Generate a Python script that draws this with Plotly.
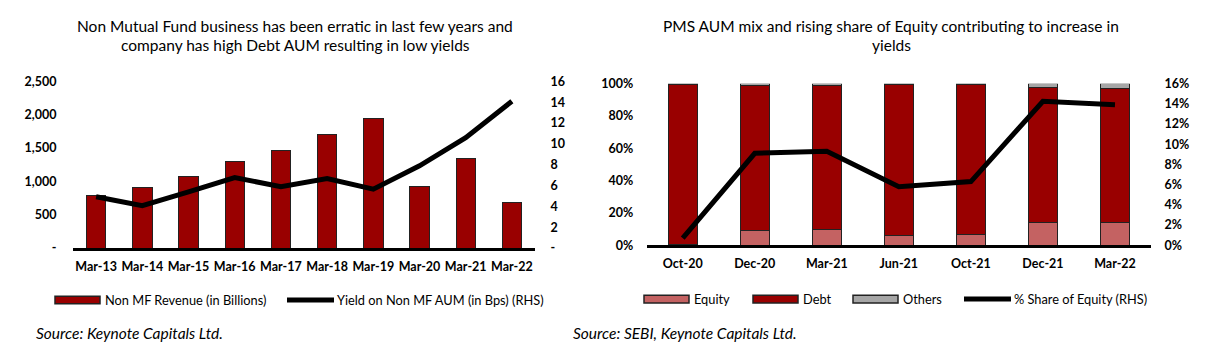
import plotly.graph_objects as go

# ---------------- data ----------------
years = ["Mar-13", "Mar-14", "Mar-15", "Mar-16", "Mar-17", "Mar-18", "Mar-19", "Mar-20", "Mar-21", "Mar-22"]
non_mf_revenue = [790, 910, 1078, 1297, 1466, 1706, 1940, 920, 1337, 690]
non_mf_yield = [4.93, 4.07, 5.4, 6.77, 5.9, 6.67, 5.66, 7.9, 10.6, 14.1]

periods = ["Oct-20", "Dec-20", "Mar-21", "Jun-21", "Oct-21", "Dec-21", "Mar-22"]
equity_pct = [0.5, 8.9, 9.5, 5.7, 6.3, 14.2, 13.9]
debt_pct = [99.2, 90.1, 89.5, 93.7, 93.0, 83.3, 83.4]
others_pct = [0.3, 1.0, 1.0, 0.6, 0.7, 2.5, 2.7]
equity_share = [0.7, 9.1, 9.3, 5.8, 6.3, 14.25, 13.9]

left_ticks = [0, 500, 1000, 1500, 2000, 2500]
left_ticktext = ["-", "500", "1,000", "1,500", "2,000", "2,500"]
rhs_ticks = [0, 2, 4, 6, 8, 10, 12, 14, 16]
rhs_ticktext = ["-", "2", "4", "6", "8", "10", "12", "14", "16"]

W, H = 1208, 353
FONT = "Lato"
DEBT = "#990000"
EQUITY = "#C46262"
OTHERS = "#A6A6A6"
OUTLINE = "#222222"


def px(x):
    return x / W


def py(y):
    return 1 - y / H


fig = go.Figure()

# left chart
fig.add_trace(go.Bar(x=years, y=non_mf_revenue, name="Non MF Revenue (in Billions)",
                     marker=dict(color=DEBT, line=dict(color=OUTLINE, width=1)),
                     width=0.42, xaxis="x", yaxis="y", showlegend=False))
fig.add_trace(go.Scatter(x=years, y=non_mf_yield, name="Yield on Non MF AUM (in Bps) (RHS)",
                         mode="lines", line=dict(color="black", width=5),
                         xaxis="x", yaxis="y2", showlegend=False))

# right chart
fig.add_trace(go.Bar(x=periods, y=equity_pct, name="Equity",
                     marker=dict(color=EQUITY, line=dict(color=OUTLINE, width=1)),
                     width=0.40, xaxis="x2", yaxis="y3", showlegend=False))
fig.add_trace(go.Bar(x=periods, y=debt_pct, name="Debt",
                     marker=dict(color=DEBT, line=dict(color=OUTLINE, width=1)),
                     width=0.40, xaxis="x2", yaxis="y3", showlegend=False))
fig.add_trace(go.Bar(x=periods, y=others_pct, name="Others",
                     marker=dict(color=OTHERS, line=dict(color=OUTLINE, width=1)),
                     width=0.40, xaxis="x2", yaxis="y3", showlegend=False))
fig.add_trace(go.Scatter(x=periods, y=equity_share, name="% Share of Equity (RHS)",
                         mode="lines", line=dict(color="black", width=5),
                         xaxis="x2", yaxis="y4", showlegend=False))

tickfont = dict(family=FONT, size=12.5, color="black", weight="bold")
hidden_tick = dict(ticks="outside", tickcolor="rgba(0,0,0,0)")

fig.update_layout(
    width=W, height=H,
    margin=dict(l=0, r=0, t=0, b=0),
    paper_bgcolor="white", plot_bgcolor="white",
    barmode="stack",
    font=dict(family=FONT, color="black"),
    xaxis=dict(domain=[px(73), px(535)], anchor="y", type="category",
               showline=True, linewidth=3, linecolor="black", showgrid=False,
               tickfont=tickfont, ticklen=5, **hidden_tick),
    yaxis=dict(domain=[py(250.7), py(76.7)], range=[0, 2500], showgrid=False, zeroline=False,
               tickvals=left_ticks, ticktext=left_ticktext, tickfont=tickfont,
               ticklen=13, **hidden_tick),
    yaxis2=dict(overlaying="y", side="right", anchor="x", range=[0, 16], showgrid=False,
                zeroline=False, tickvals=rhs_ticks, ticktext=rhs_ticktext, tickfont=tickfont,
                ticklen=12, **hidden_tick),
    xaxis2=dict(domain=[px(646.7), px(1151)], anchor="y3", type="category",
                showline=True, linewidth=3, linecolor="black", showgrid=False,
                tickfont=tickfont, ticklen=5, **hidden_tick),
    yaxis3=dict(domain=[py(247.7), py(79)], anchor="x2", range=[0, 100], dtick=20,
                ticksuffix="%", showgrid=False, zeroline=False, tickfont=tickfont,
                ticklen=10, **hidden_tick),
    yaxis4=dict(overlaying="y3", side="right", anchor="x2", range=[0, 16], dtick=2,
                ticksuffix="%", showgrid=False, zeroline=False, tickfont=tickfont,
                ticklen=10, **hidden_tick),
)

annotations = []
shapes = []

# titles
title_font = dict(family=FONT, size=15.5, color="black")
for x, lines in [(295, ["Non Mutual Fund business has been erratic in last few years and",
                        "company has high Debt AUM resulting in low yields"]),
                 (891, ["PMS AUM mix and rising share of Equity contributing to increase in",
                        "yields"])]:
    for i, t in enumerate(lines):
        annotations.append(dict(x=px(x), y=py(18.5 + 20.5 * i), xref="paper", yref="paper",
                                text=t, showarrow=False, xanchor="center", yanchor="middle",
                                font=title_font))

# custom legends
leg_font = dict(family=FONT, size=12.8, color="black")


def rect_item(x0, y, color, label):
    shapes.append(dict(type="rect", xref="paper", yref="paper",
                       x0=px(x0), x1=px(x0 + 45), y0=py(y + 4), y1=py(y - 4),
                       fillcolor=color, line=dict(color=OUTLINE, width=1.5)))
    annotations.append(dict(x=px(x0 + 48), y=py(y), xref="paper", yref="paper", text=label,
                            showarrow=False, xanchor="left", yanchor="middle", font=leg_font))


def line_item(x0, y, label):
    shapes.append(dict(type="line", xref="paper", yref="paper",
                       x0=px(x0), x1=px(x0 + 47), y0=py(y), y1=py(y),
                       line=dict(color="black", width=5)))
    annotations.append(dict(x=px(x0 + 48), y=py(y), xref="paper", yref="paper", text=label,
                            showarrow=False, xanchor="left", yanchor="middle", font=leg_font))


rect_item(55, 305, DEBT, "Non MF Revenue (in Billions)")
line_item(287, 305, "Yield on Non MF AUM (in Bps) (RHS)")
rect_item(644, 304, EQUITY, "Equity")
rect_item(753, 304, DEBT, "Debt")
rect_item(853, 304, OTHERS, "Others")
line_item(964, 304, "% Share of Equity (RHS)")

# sources
src_font = dict(family=FONT, size=15.5, color="black", style="italic")
annotations.append(dict(x=px(34), y=py(339), xref="paper", yref="paper",
                        text="Source: Keynote Capitals Ltd.", showarrow=False,
                        xanchor="left", yanchor="middle", font=src_font))
annotations.append(dict(x=px(571), y=py(339), xref="paper", yref="paper",
                        text="Source: SEBI, Keynote Capitals Ltd.", showarrow=False,
                        xanchor="left", yanchor="middle", font=src_font))

fig.update_layout(annotations=annotations, shapes=shapes)

fig.write_html("out.html")
